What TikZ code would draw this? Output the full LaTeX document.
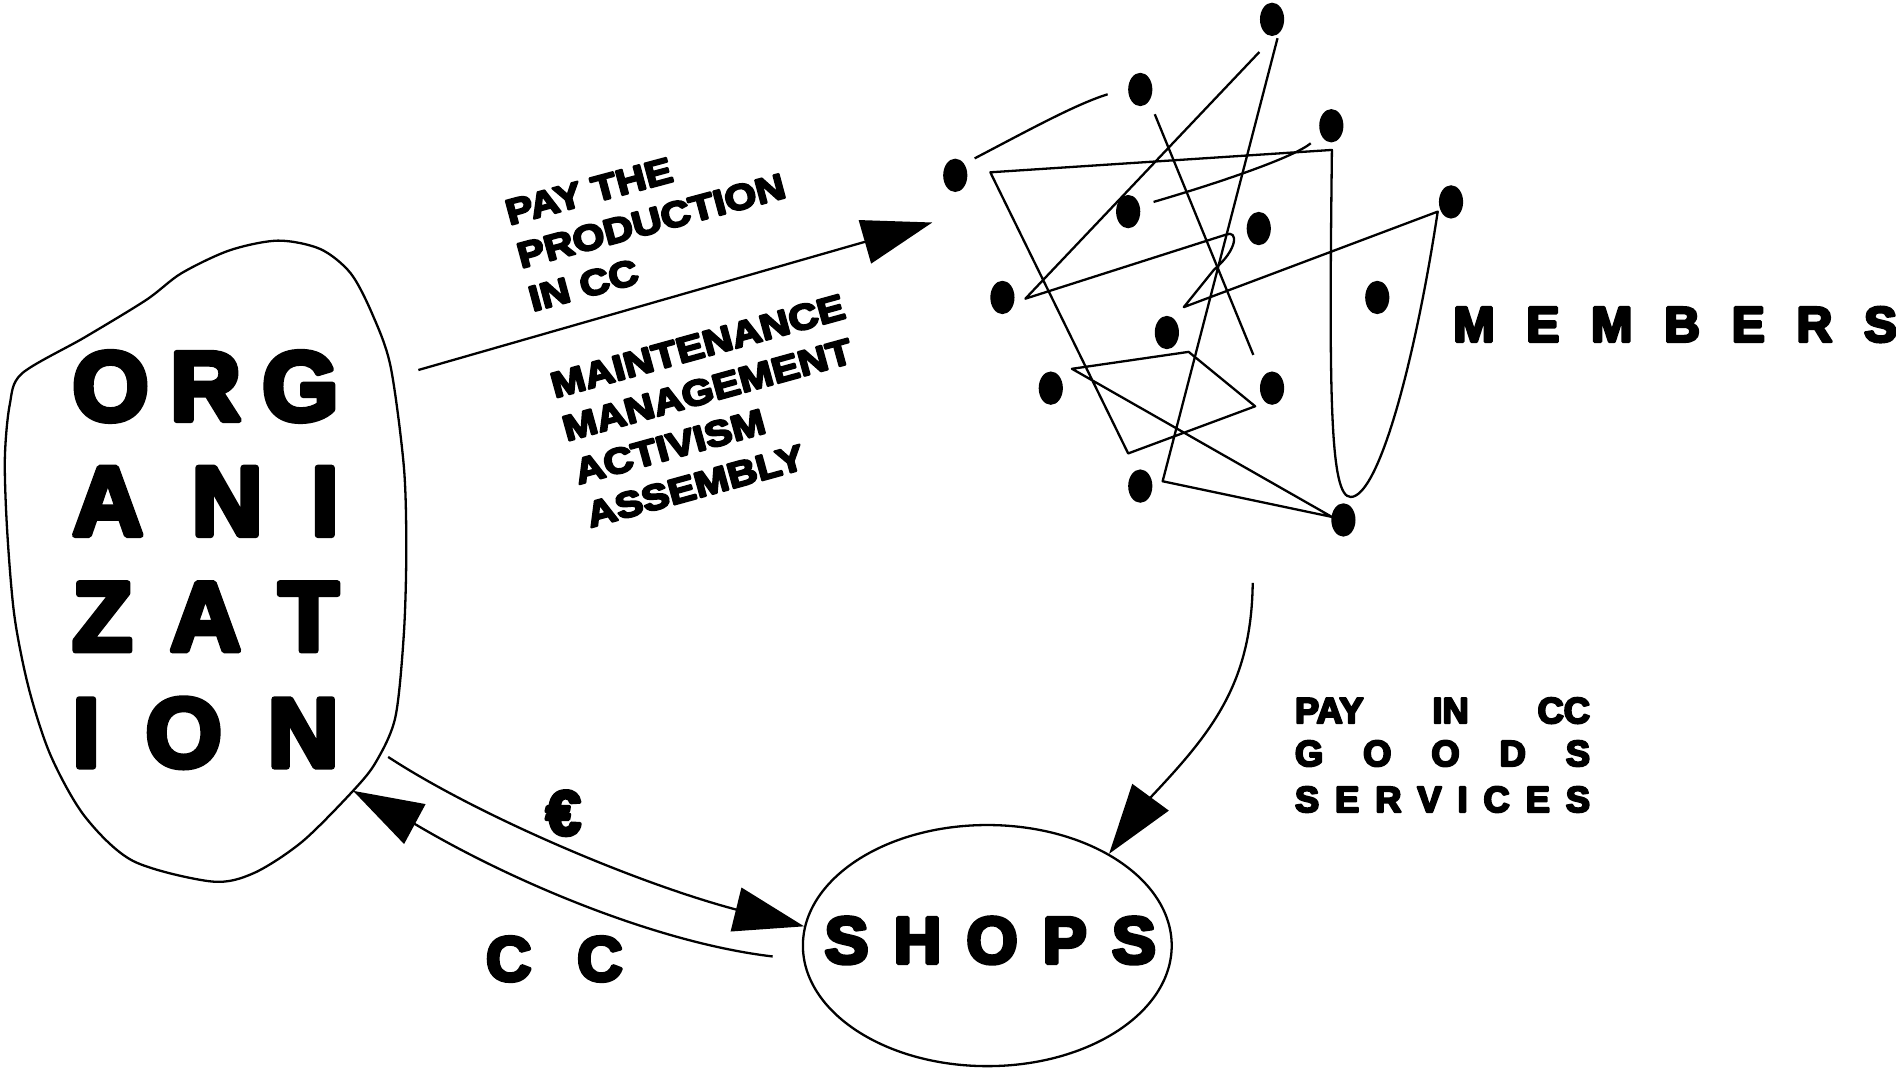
\documentclass[tikz,border=0pt]{standalone}
\usepackage{fontspec}
\setmainfont{Liberation Sans}
\newfontfamily\heavy{Liberation Sans}[FakeBold=6]
\newfontfamily\wideheavy{Liberation Sans}[FakeStretch=1.15, FakeBold=6]
\usetikzlibrary{arrows.meta, shapes.geometric}

\tikzset{
  member/.style={ellipse, fill, minimum width=20pt, minimum height=27.6pt, inner sep=0pt},
  bigtip/.style={-{Triangle[length=58pt, width=37pt]}},
  orgtext/.style={anchor=base west, inner sep=0pt, font=\heavy\bfseries\fontsize{81}{81}\selectfont},
  flowtext/.style={anchor=base west, inner sep=0pt, font=\wideheavy\bfseries\fontsize{29.5}{35}\selectfont},
  spreadtext/.style={anchor=base west, inner sep=0pt, font=\heavy\bfseries\fontsize{30}{36}\selectfont},
}

\begin{document}
\begin{tikzpicture}[x=1pt, y=-1pt, line width=1.9pt, line join=round]
  \useasboundingbox (0,0) rectangle (1568,885);

  % organization blob
  \draw plot[smooth cycle, tension=0.5] coordinates {(18,309) (70,279) (121,248)
    (150,226) (190,207) (230,199) (265,206) (290,226) (308,260) (323,303)
    (334,386) (336,455) (334,524) (327,593) (311,630) (292,654) (250,696)
    (210,722) (175,729) (110,712) (70,675) (42,625) (24,570) (12,510)
    (6,440) (4,380) (8,335)};

  \node[orgtext] (org1) at (59,347.5) {\makebox[220pt][s]{O\hfill R\hfill G}};
  \node[orgtext] (org2) at (59,442.5) {\makebox[220pt][s]{A\hfill N\hfill I}};
  \node[orgtext] (org3) at (59,538)   {\makebox[220pt][s]{Z\hfill A\hfill T}};
  \node[orgtext] (org4) at (59,634)   {\makebox[220pt][s]{I\hfill O\hfill N}};

  % shops
  \node[draw, ellipse, minimum width=305pt, minimum height=199.4pt, inner sep=0pt] (shops) at (816.5,782) {};
  \node[anchor=base west, inner sep=0pt, font=\heavy\bfseries\fontsize{54.5}{54.5}\selectfont]
    (shopslabel) at (681,796.5) {\makebox[274pt][s]{S\hfill H\hfill O\hfill P\hfill S}};

  % members
  \node[member] (m1)  at (1052,16)  {};
  \node[member] (m2)  at (943,74)   {};
  \node[member] (m3)  at (1101,104) {};
  \node[member] (m4)  at (790,145)  {};
  \node[member] (m5)  at (933,175)  {};
  \node[member] (m6)  at (1200,167) {};
  \node[member] (m7)  at (1041,189) {};
  \node[member] (m8)  at (829,246)  {};
  \node[member] (m9)  at (1139,246) {};
  \node[member] (m10) at (965,275)  {};
  \node[member] (m11) at (869,321)  {};
  \node[member] (m12) at (1052,321) {};
  \node[member] (m13) at (943,402)  {};
  \node[member] (m14) at (1111,430) {};

  \node[anchor=base west, inner sep=0pt, font=\heavy\bfseries\fontsize{41}{41}\selectfont]
    (memberslabel) at (1201,282.5) {\makebox[367pt][s]{M\hfill E\hfill M\hfill B\hfill E\hfill R\hfill S}};

  % scribble between members
  \draw (806,131) .. controls (850,108) and (890,86) .. (916,78);
  \draw (955,94.5) -- (1036.5,293.5);
  \draw (954,167) .. controls (1010,150.6) and (1070,130) .. (1084,118.5);
  \draw (1041.5,43) -- (848,247) -- (1014,194) .. controls (1024,190) and (1024,206) .. (1004,223)
    -- (979,254) -- (1189,175) .. controls (1170,300) and (1140,411) .. (1117,411)
    .. controls (1100,411) and (1099,330) .. (1101.5,124) -- (819,142.5) -- (933,375)
    -- (1038,336) -- (983,291) -- (886.5,305) -- (1101.5,427.5) -- (961.5,398) -- (1056.5,31.6);

  % flows
  \coordinate (orgout)  at (346,306);
  \coordinate (netin)   at (771,184);
  \coordinate (orgeuro) at (321,626);
  \coordinate (orgcc)   at (292,654);
  \coordinate (shopcc)  at (639,791);
  \coordinate (netout)  at (1036,482);

  \draw[bigtip] (orgout) -- (netin);
  \draw[bigtip] (orgeuro) .. controls (393.5,673.5) and (524,729.5) .. (608,752) -- (shops.174);
  \draw[bigtip] (shopcc) .. controls (545,780) and (425,730) .. (344,682) -- (orgcc);
  \draw[bigtip] (netout) .. controls (1035,565) and (1003,605) .. (951,660) -- (shops.37);

  % labels
  \node[flowtext, rotate=15] (pay1) at (420.5,186.5) {PAY THE};
  \node[flowtext, rotate=15] (pay2) at (430.1,222.2) {PRODUCTION};
  \node[flowtext, rotate=15] (pay3) at (439.7,257.9) {IN CC};

  \node[flowtext, rotate=15.4] (task1) at (458,329.5)   {MAINTENANCE};
  \node[flowtext, rotate=15.4] (task2) at (467.8,365.2) {MANAGEMENT};
  \node[flowtext, rotate=15.4] (task3) at (477.6,400.9) {ACTIVISM};
  \node[flowtext, rotate=15.4] (task4) at (487.4,436.6) {ASSEMBLY};

  \node[spreadtext] (payin)    at (1070,598)   {\makebox[244pt][s]{PAY\hfill IN\hfill CC}};
  \node[spreadtext] (goods)    at (1070,633.5) {\makebox[244pt][s]{G\hfill O\hfill O\hfill D\hfill S}};
  \node[spreadtext] (services) at (1070,671.5) {\makebox[244pt][s]{S\hfill E\hfill R\hfill V\hfill I\hfill C\hfill E\hfill S}};

  \node[inner sep=0pt, font=\heavy\bfseries\fontsize{52}{52}\selectfont] (euro) at (466,672.5) {€};
  \node[anchor=base west, inner sep=0pt, font=\heavy\bfseries\fontsize{52}{52}\selectfont]
    (cc) at (401,811) {\makebox[113pt][s]{C\hfill C}};
\end{tikzpicture}
\end{document}
